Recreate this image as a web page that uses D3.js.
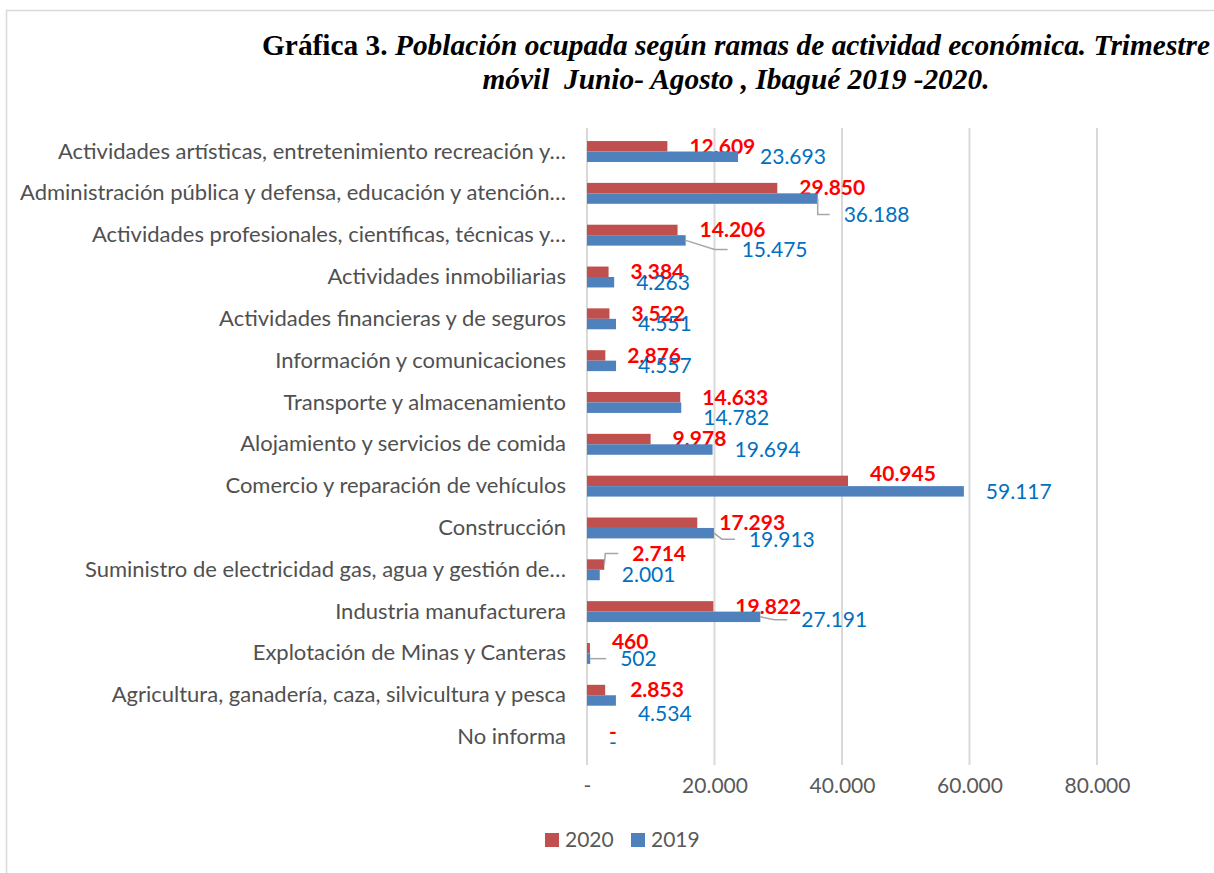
<!DOCTYPE html>
<html>
<head>
	<meta charset="utf-8">
	<title>Población ocupada según ramas de actividad económica</title>
	<script src="https://d3js.org/d3.v7.min.js"></script>

	<style type="text/css">
		body {
			margin: 0;
			background: #fff;
		}

		svg {
			display: block;
		}

		.title {
			font-family: "Liberation Serif", "Times New Roman", serif;
			font-size: 29px;
			font-weight: bold;
			fill: #000;
		}

		.cat {
			font-family: Lato, "Open Sans", sans-serif;
			font-size: 22px;
			fill: #505050;
		}

		.tick-label, .legend text {
			font-family: Lato, "Open Sans", sans-serif;
			font-size: 21px;
			fill: #595959;
		}

		.lbl-2020 {
			font-family: Lato, "Open Sans", sans-serif;
			font-size: 21px;
			font-weight: bold;
			fill: #ff0000;
		}

		.lbl-2019 {
			font-family: Lato, "Open Sans", sans-serif;
			font-size: 21px;
			fill: #0070c0;
		}

		.grid {
			stroke: #d9d9d9;
			stroke-width: 2;
		}

		.leader {
			fill: none;
			stroke: #a6a6a6;
			stroke-width: 1.5;
		}
	</style>
</head>
<body>

<div id="chart"></div>

<script>
	// data (top to bottom)
	var categories = [
		"Actividades artísticas, entretenimiento recreación y…",
		"Administración pública y defensa, educación y atención…",
		"Actividades profesionales, científicas, técnicas y…",
		"Actividades inmobiliarias",
		"Actividades financieras y de seguros",
		"Información y comunicaciones",
		"Transporte y almacenamiento",
		"Alojamiento y servicios de comida",
		"Comercio y reparación de vehículos",
		"Construcción",
		"Suministro de electricidad gas, agua y gestión de…",
		"Industria manufacturera",
		"Explotación de Minas y Canteras",
		"Agricultura, ganadería, caza, silvicultura y pesca",
		"No informa"
	];
	var values2020 = [12609, 29850, 14206, 3384, 3522, 2876, 14633, 9978, 40945, 17293, 2714, 19822, 460, 2853, 0];
	var values2019 = [23693, 36188, 15475, 4263, 4551, 4557, 14782, 19694, 59117, 19913, 2001, 27191, 502, 4534, 0];
	var series = ["2020", "2019"];
	var tickValues = [0, 20000, 40000, 60000, 80000];

	// hand-dragged data labels in the original: [dx, dy, leader line?]
	var nudge2020 = {8: [0, -7], 10: [6, -11, true], 12: [0, -7], 13: [3, 0]};
	var nudge2019 = {1: [4, 16, true], 2: [34, 9, true], 6: [0, 10], 9: [13, 6, true], 11: [19, 3, true], 12: [8, 0, true], 13: [0, 13]};

	var width = 1214, height = 873;
	var colors = {"2020": "#c0504d", "2019": "#4f81bd"};

	var fmt = function(v) {
		if (v === 0) return "-";
		return d3.format(",")(v).replace(/,/g, ".");
	};

	var svg = d3.select("#chart").append("svg")
		.attr("width", width)
		.attr("height", height);

	// chart frame
	svg.append("rect")
		.attr("x", 6.5).attr("y", 10.5)
		.attr("width", 1240).attr("height", 900)
		.attr("fill", "#fff")
		.attr("stroke", "#d9d9d9")
		.attr("stroke-width", 1.5);

	// title
	var t1 = svg.append("text").attr("class", "title")
		.attr("x", 736).attr("y", 55)
		.attr("text-anchor", "middle")
		.attr("textLength", 948).attr("lengthAdjust", "spacingAndGlyphs");
	t1.append("tspan").text("Gráfica 3. ");
	t1.append("tspan").attr("font-style", "italic")
		.text("Población ocupada según ramas de actividad económica. Trimestre");

	svg.append("text").attr("class", "title")
		.attr("x", 736).attr("y", 89)
		.attr("text-anchor", "middle")
		.attr("font-style", "italic")
		.attr("textLength", 507).attr("lengthAdjust", "spacingAndGlyphs")
		.attr("xml:space", "preserve")
		.text("móvil  Junio- Agosto , Ibagué 2019 -2020.");

	// scales
	var x = d3.scaleLinear()
		.domain([0, 80000])
		.range([587, 1097]);

	var y = d3.scaleBand()
		.domain(categories)
		.range([130.6, 758])
		.paddingInner(0.5)
		.paddingOuter(0.25);

	var ySub = d3.scaleBand()
		.domain(series)
		.range([0, y.bandwidth()]);

	// gridlines
	svg.selectAll(".grid")
		.data(tickValues)
		.enter()
		.append("line")
		.attr("class", "grid")
		.attr("x1", function(d) { return x(d); })
		.attr("x2", function(d) { return x(d); })
		.attr("y1", 128)
		.attr("y2", 765);

	// x axis labels
	var xAxis = d3.axisBottom(x)
		.tickValues(tickValues)
		.tickSize(0)
		.tickFormat(fmt);

	var gx = svg.append("g")
		.attr("transform", "translate(0,775)")
		.call(xAxis);
	gx.select(".domain").remove();
	gx.selectAll("text").attr("class", "tick-label").attr("dy", "0.71em");

	// category labels
	var yAxis = d3.axisLeft(y).tickSize(0).tickPadding(0);
	var gy = svg.append("g")
		.attr("transform", "translate(566,0)")
		.call(yAxis);
	gy.select(".domain").remove();
	gy.selectAll("text").attr("class", "cat");

	// rows
	var rows = categories.map(function(c, i) {
		return {cat: c, i: i, "2020": values2020[i], "2019": values2019[i]};
	});

	var row = svg.selectAll(".row")
		.data(rows)
		.enter()
		.append("g")
		.attr("class", "row")
		.attr("transform", function(d) { return "translate(0," + y(d.cat) + ")"; });

	series.forEach(function(s) {
		var nudge = s === "2020" ? nudge2020 : nudge2019;

		row.append("rect")
			.attr("x", x(0))
			.attr("y", ySub(s))
			.attr("width", function(d) { return x(d[s]) - x(0); })
			.attr("height", ySub.bandwidth())
			.attr("fill", colors[s]);

		row.each(function(d) {
			var g = d3.select(this);
			var n = nudge[d.i] || [0, 0];
			var barEnd = x(d[s]);
			var barY = ySub(s) + ySub.bandwidth() / 2;
			var lx = barEnd + 22 + n[0];
			var ly = barY + n[1];

			if (n[2]) {
				g.append("polyline")
					.attr("class", "leader")
					.attr("points", [[barEnd, barY], [Math.max(barEnd, lx - 27), ly], [lx - 14, ly]].join(" "));
			}

			g.append("text")
				.attr("class", "lbl-" + s)
				.attr("x", lx)
				.attr("y", ly)
				.attr("dy", "0.35em")
				.text(fmt(d[s]));
		});
	});

	// legend
	var legend = svg.append("g").attr("class", "legend")
		.attr("transform", "translate(545,833)");

	var li = legend.selectAll("g")
		.data(series)
		.enter()
		.append("g")
		.attr("transform", function(d, i) { return "translate(" + (i * 86) + ",0)"; });

	li.append("rect")
		.attr("width", 14).attr("height", 14)
		.attr("fill", function(d) { return colors[d]; });

	li.append("text")
		.attr("x", 20).attr("y", 7)
		.attr("dy", "0.35em")
		.text(function(d) { return d; });
</script>

</body>
</html>
